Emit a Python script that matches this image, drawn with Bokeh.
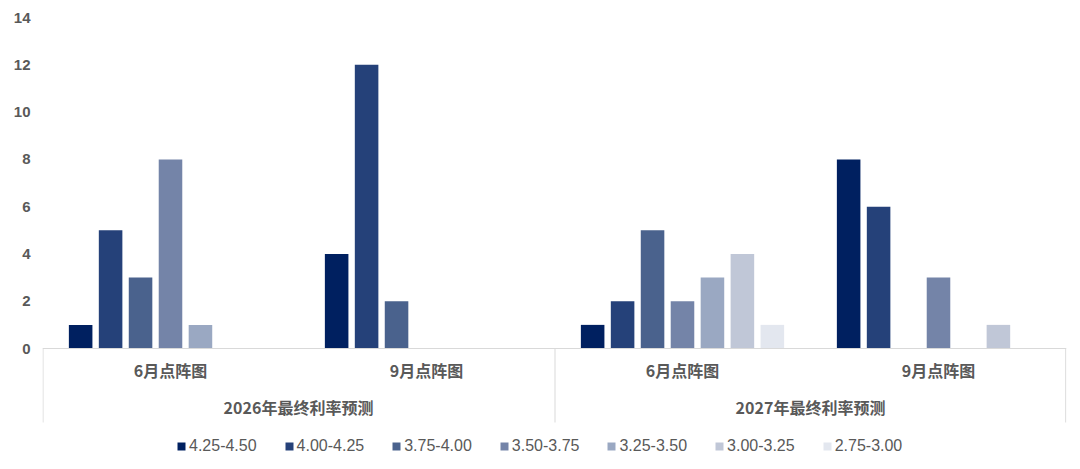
from bokeh.plotting import figure
from bokeh.models import FactorRange, ColumnDataSource, FixedTicker, Span, Legend, LegendItem
from bokeh.transform import dodge
from bokeh.core.properties import value
from bokeh.embed import file_html
from bokeh.resources import INLINE

years = ["2026年最终利率预测", "2027年最终利率预测"]
months = ["6月点阵图", "9月点阵图"]
series = ["4.25-4.50", "4.00-4.25", "3.75-4.00", "3.50-3.75", "3.25-3.50", "3.00-3.25", "2.75-3.00"]
colors = ["#002060", "#254179", "#4a628d", "#7484a8", "#9aa8c2", "#c0c7d7", "#e3e7ef"]
# values per series, in order: 2026-6月, 2026-9月, 2027-6月, 2027-9月
v_425_450 = [1, 4, 1, 8]
v_400_425 = [5, 12, 2, 6]
v_375_400 = [3, 2, 5, 0]
v_350_375 = [8, 0, 2, 3]
v_325_350 = [1, 0, 3, 0]
v_300_325 = [0, 0, 4, 1]
v_275_300 = [0, 0, 1, 0]
values = [v_425_450, v_400_425, v_375_400, v_350_375, v_325_350, v_300_325, v_275_300]
y_ticks = [0, 2, 4, 6, 8, 10, 12, 14]

factors = [(y, m) for y in years for m in months]

p = figure(x_range=FactorRange(*factors, range_padding=0, factor_padding=0, group_padding=0),
           y_range=(-4.78, 14.3),
           width=1071, height=461,
           min_border_left=42, min_border_right=5, min_border_top=10, min_border_bottom=0,
           output_backend="svg", toolbar_location=None)

p.xaxis.visible = False
p.xgrid.visible = False
p.ygrid.visible = False
p.outline_line_color = None
p.yaxis.ticker = FixedTicker(ticks=y_ticks)
p.yaxis.axis_line_color = None
p.yaxis.major_tick_line_color = None
p.yaxis.minor_tick_line_color = None
p.yaxis.major_tick_out = 0
p.yaxis.major_tick_in = 0
p.yaxis.major_label_standoff = 12
p.yaxis.major_label_text_font = "Liberation Sans"
p.yaxis.major_label_text_font_style = "bold"
p.yaxis.major_label_text_font_size = "15px"
p.yaxis.major_label_text_color = "#595959"

step = 0.117
width = 0.092
items = []
for i, (name, col, vals) in enumerate(zip(series, colors, values)):
    src = ColumnDataSource(dict(x=factors, top=vals))
    r = p.vbar(x=dodge("x", (i - 3) * step, range=p.x_range), top="top", bottom=0, width=width,
               source=src, fill_color=col, line_color=None)
    items.append(LegendItem(label=name, renderers=[r]))

# axis line at zero and category separators
p.add_layout(Span(location=0, dimension="width", line_color="#d9d9d9", line_width=1))
sep_left = ColumnDataSource(dict(x=[factors[0], factors[2]], y0=[0, 0], y1=[-3.13, -3.13]))
p.segment(x0=dodge("x", -0.498, range=p.x_range), x1=dodge("x", -0.498, range=p.x_range),
          y0="y0", y1="y1", source=sep_left, line_color="#d9d9d9", line_width=1)
sep_right = ColumnDataSource(dict(x=[factors[3]], y0=[0], y1=[-3.13]))
p.segment(x0=dodge("x", 0.497, range=p.x_range), x1=dodge("x", 0.497, range=p.x_range),
          y0="y0", y1="y1", source=sep_right, line_color="#d9d9d9", line_width=1)

# category labels
sub_src = ColumnDataSource(dict(x=factors, y=[-0.92] * 4, t=[f[1] for f in factors]))
p.text(x="x", y="y", text="t", source=sub_src, text_align="center", text_baseline="middle",
       text_font=value("Noto Sans CJK SC"), text_font_size="16px", text_font_style="bold",
       text_color="#595959")
yr_src = ColumnDataSource(dict(x=years, y=[-2.46] * 2, t=years))
p.text(x="x", y="y", text="t", source=yr_src, text_align="center", text_baseline="middle",
       text_font=value("Noto Sans CJK SC"), text_font_size="16px", text_font_style="bold",
       text_color="#595959")

legend = Legend(items=items, orientation="horizontal", location=(134, 6),
                glyph_width=10, glyph_height=10, label_standoff=3, spacing=27,
                label_text_font="Liberation Sans", label_text_font_size="16px",
                label_text_color="#595959", border_line_color=None, background_fill_alpha=0,
                padding=8, margin=0)
p.add_layout(legend, "center")

open("out.html", "w").write(file_html(p, INLINE))
